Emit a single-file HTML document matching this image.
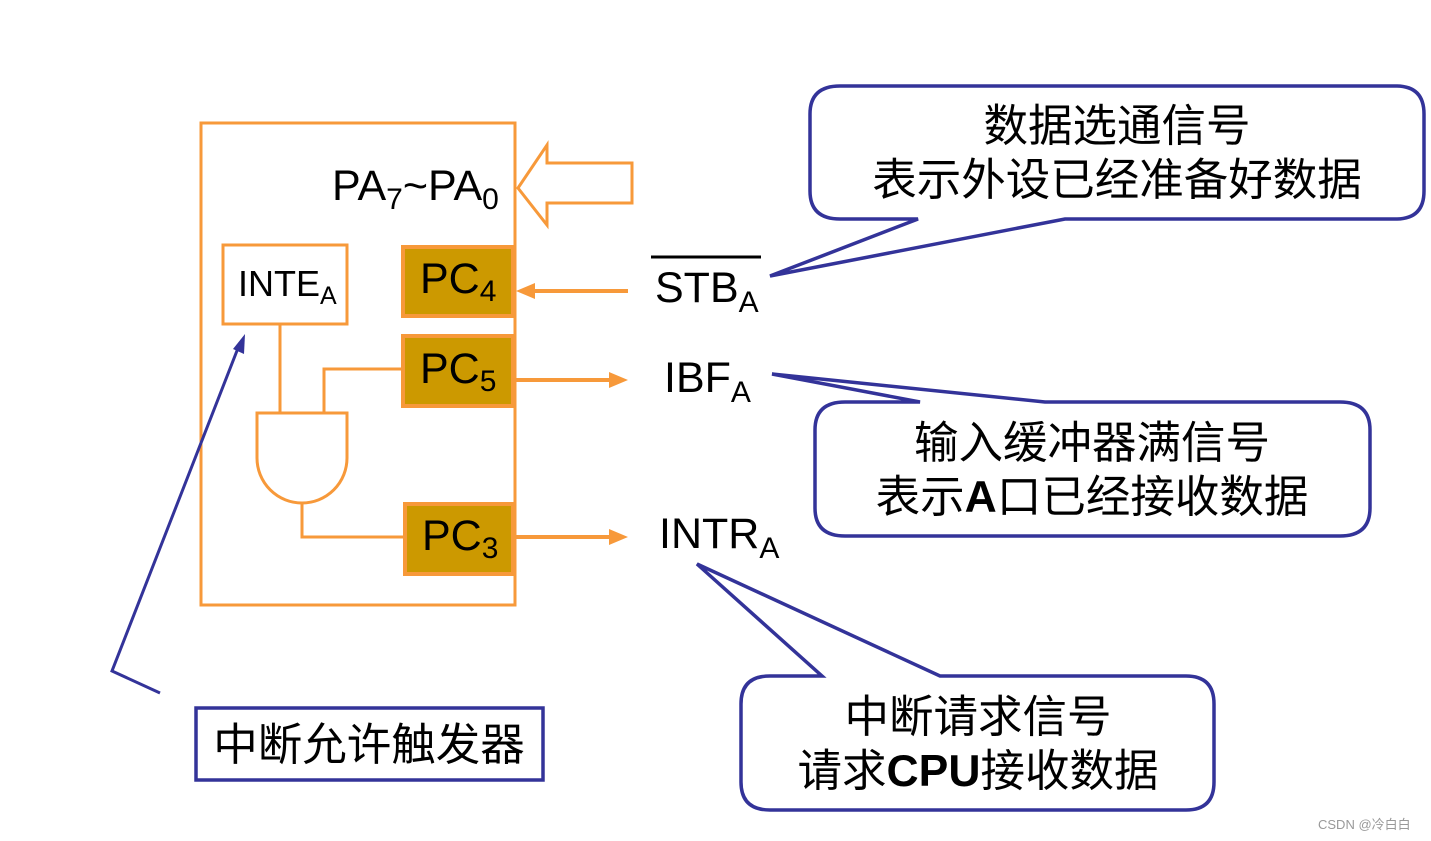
<!DOCTYPE html>
<html><head><meta charset="utf-8"><style>
html,body{margin:0;padding:0;background:#fff;}
svg{display:block}
.l{font-family:"Liberation Sans",sans-serif;fill:#000}
.c{font-family:"Liberation Sans","Noto Sans CJK SC",sans-serif;fill:#000;font-size:44.5px}
</style></head><body>
<svg width="1431" height="841" viewBox="0 0 1431 841" xmlns="http://www.w3.org/2000/svg">
<g fill="none" stroke="#F7993A" stroke-width="3">
<rect x="201" y="123" width="314" height="482"/>
<polygon points="518,188 547,145 547,163 632,163 632,203 547,203 547,225" stroke-width="3"/>
<rect x="223" y="245" width="124" height="79"/>
<line x1="280" y1="324" x2="280" y2="413"/>
<polyline points="324,413 324,369 402,369"/>
<path d="M257,413 H347 V458 A45,45 0 0 1 257,458 Z"/>
<polyline points="302,503 302,537 404,537"/>
<line x1="628" y1="291" x2="530" y2="291" stroke-width="4"/>
<line x1="515" y1="380" x2="615" y2="380" stroke-width="4"/>
<line x1="515" y1="537" x2="615" y2="537" stroke-width="4"/>
</g>
<g fill="#F7993A">
<polygon points="516,291 535,283 535,299"/>
<polygon points="628,380 609,372 609,388"/>
<polygon points="628,537 609,529 609,545"/>
</g>
<g fill="#CC9900" stroke="#F7993A" stroke-width="4">
<rect x="403" y="247" width="110" height="69"/>
<rect x="403" y="336" width="110" height="70"/>
<rect x="405" y="504" width="108" height="70"/>
</g>
<text class="l" x="332" y="200" font-size="43">PA<tspan font-size="30" dy="9">7</tspan><tspan dy="-9">~PA</tspan><tspan font-size="30" dy="9">0</tspan></text>
<text class="l" x="238" y="296" font-size="36">INTE<tspan font-size="25" dy="8">A</tspan></text>
<text class="l" x="420" y="293" font-size="43">PC<tspan font-size="30" dy="8">4</tspan></text>
<text class="l" x="420" y="383" font-size="43">PC<tspan font-size="30" dy="8">5</tspan></text>
<text class="l" x="422" y="550" font-size="43">PC<tspan font-size="30" dy="8">3</tspan></text>
<line x1="651" y1="257" x2="761" y2="257" stroke="#000" stroke-width="3"/>
<text class="l" x="655" y="302" font-size="43">STB<tspan font-size="30" dy="10">A</tspan></text>
<text class="l" x="664" y="392" font-size="43">IBF<tspan font-size="30" dy="10">A</tspan></text>
<text class="l" x="659" y="548" font-size="43">INTR<tspan font-size="30" dy="10">A</tspan></text>
<g fill="#fff" stroke="#333399" stroke-width="3.5" stroke-linejoin="miter">
<path d="M840,86 H1396 Q1424,86 1424,114 V191 Q1424,219 1396,219 H1065 L770,276 L918,219 H840 Q810,219 810,191 V114 Q810,86 840,86 Z"/>
<path d="M845,402 H920 L772,374 L1045,402 H1340 Q1370,402 1370,430 V508 Q1370,536 1340,536 H845 Q815,536 815,508 V430 Q815,402 845,402 Z"/>
<path d="M770,676 H822 L697,564 L940,676 H1186 Q1214,676 1214,704 V782 Q1214,810 1186,810 H770 Q741,810 741,782 V704 Q741,676 770,676 Z"/>
<rect x="196" y="708" width="347" height="72"/>
</g>
<polyline points="160,693 112,671 240,343" fill="none" stroke="#333399" stroke-width="3"/>
<polygon points="245,334 244,354 233,349" fill="#333399"/>
<text class="c" x="1117" y="141" text-anchor="middle">数据选通信号</text>
<text class="c" x="1117" y="195" text-anchor="middle">表示外设已经准备好数据</text>
<text class="c" x="1092" y="458" text-anchor="middle">输入缓冲器满信号</text>
<text class="c" x="1092" y="512" text-anchor="middle">表示<tspan font-weight="bold">A</tspan>口已经接收数据</text>
<text class="c" x="978" y="732" text-anchor="middle">中断请求信号</text>
<text class="c" x="978" y="786" text-anchor="middle">请求<tspan font-weight="bold">CPU</tspan>接收数据</text>
<text class="c" x="369" y="760" text-anchor="middle">中断允许触发器</text>
<text x="1318" y="829" font-family="Liberation Sans,Noto Sans CJK SC,sans-serif" font-size="13" fill="#999">CSDN @冷白白</text>
</svg>
</body></html>
